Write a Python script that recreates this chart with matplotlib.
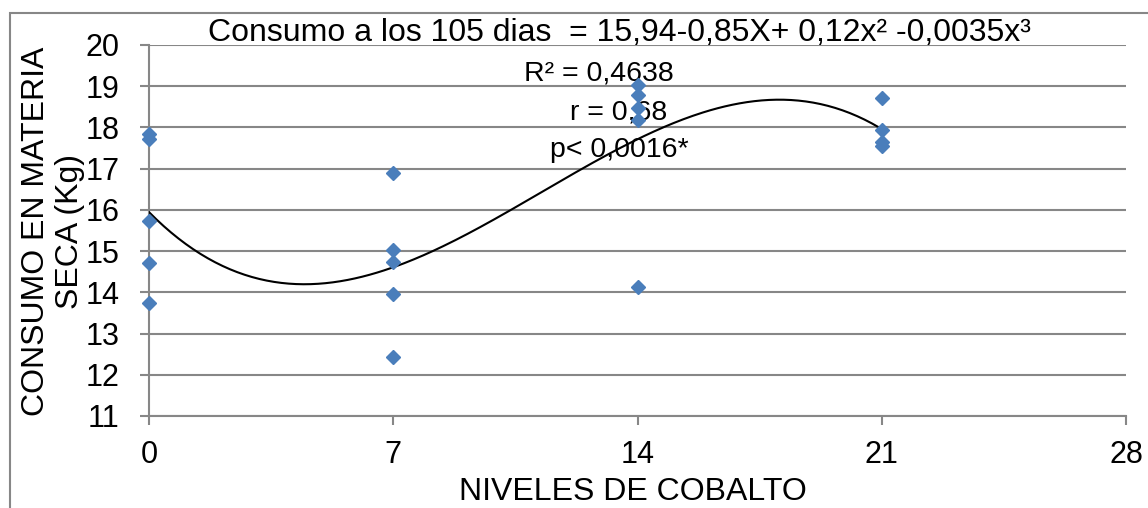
import matplotlib
matplotlib.use('Agg')
import matplotlib.pyplot as plt
import numpy as np
from matplotlib.patches import Rectangle

plt.rcParams['font.family'] = ['Liberation Sans', 'DejaVu Sans']

# Dry matter intake (kg) per cobalt level
cobalt_0 = [17.84, 17.72, 15.72, 14.72, 13.73]
cobalt_7 = [16.90, 15.03, 14.73, 13.96, 12.42]
cobalt_14 = [19.04, 18.78, 18.46, 18.17, 14.12]
cobalt_21 = [18.72, 17.94, 17.64, 17.54]
levels = [0, 7, 14, 21]

x_ticks = [0, 7, 14, 21, 28]
y_ticks = list(range(11, 21))

eq_text = "Consumo a los 105 dias  = 15,94-0,85X+ 0,12x² -0,0035x³"
stats_lines = ["R² = 0,4638", "r = 0,68", "p< 0,0016*"]

xs = np.concatenate([[lv] * len(v) for lv, v in zip(levels, [cobalt_0, cobalt_7, cobalt_14, cobalt_21])])
ys = np.concatenate([cobalt_0, cobalt_7, cobalt_14, cobalt_21])

W, H = 1148, 508
fig = plt.figure(figsize=(W / 100, H / 100), dpi=100)
ax = fig.add_axes([149 / W, 1 - 416 / H, 977 / W, 371 / H])

grid_col = '#878787'
blue = '#4A7EBB'

# cubic trend line fitted to the observations
coef = np.polyfit(xs, ys, 3)
xfit = np.linspace(0, 21, 300)
ax.plot(xfit, np.polyval(coef, xfit), color='black', lw=1.5, zorder=3)

ax.plot(xs, ys, 'D', color=blue, ms=7.5, mec=blue, zorder=4, clip_on=False)

ax.set_xlim(0, 28)
ax.set_ylim(11, 20)
ax.set_xticks(x_ticks)
ax.set_yticks(y_ticks)
ax.yaxis.grid(True, color=grid_col, lw=1.5)
ax.set_axisbelow(True)
for side in ['top', 'right']:
    ax.spines[side].set_visible(False)
for side in ['left', 'bottom']:
    ax.spines[side].set_color(grid_col)
    ax.spines[side].set_linewidth(1.5)
ax.tick_params(axis='both', color=grid_col, width=1.5, length=6.5, labelsize=22)
ax.tick_params(axis='y', pad=15)
ax.tick_params(axis='x', pad=11)

fig.text(633 / W, 1 - 492 / H, "NIVELES DE COBALTO", fontsize=23, ha='center', va='center')
fig.text(53 / W, 1 - 231 / H, "CONSUMO EN MATERIA\nSECA (Kg)", fontsize=23,
         rotation=90, ha='center', va='center', multialignment='center')

ax.text(13.47, 20.29, eq_text, fontsize=23, ha='center', va='center', clip_on=False)
for txt, xv, yv in zip(stats_lines, [12.9, 13.47, 13.47], [19.32, 18.37, 17.45]):
    ax.text(xv, yv, txt, fontsize=20.5, ha='center', va='center')

# outer chart frame
fig.patches.append(Rectangle((10 / W, -0.5), 1.5, 0.5 + 1 - 13 / H,
                             transform=fig.transFigure, fill=False,
                             edgecolor=grid_col, lw=1.5))

fig.savefig('out.png', dpi=100)
